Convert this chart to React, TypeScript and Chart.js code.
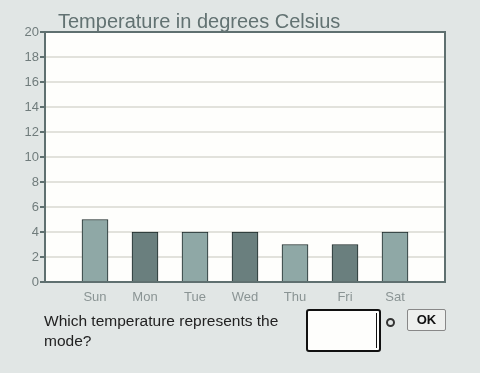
import React, { useEffect, useRef } from "react";
import { Chart, registerables } from "chart.js";

Chart.register(...registerables);

const categories = ["", "Sun", "Mon", "Tue", "Wed", "Thu", "Fri", "Sat", ""];
const temperatures = [null, 5, 4, 4, 4, 3, 3, 4, null];
const barColors = ["#8fa8a6", "#8fa8a6", "#6a7f7e", "#8fa8a6", "#6a7f7e", "#8fa8a6", "#6a7f7e", "#8fa8a6", "#8fa8a6"];
const yMin = 0;
const yMax = 20;
const yStep = 2;

const plotBox = {
  id: "plotBox",
  beforeDraw(chart: any) {
    const { ctx, chartArea: a } = chart;
    ctx.save();
    ctx.fillStyle = "#fefefc";
    ctx.fillRect(a.left, a.top, a.right - a.left, a.bottom - a.top);
    ctx.restore();
  },
  afterDraw(chart: any) {
    const { ctx, chartArea: a } = chart;
    ctx.save();
    ctx.strokeStyle = "#5f7070";
    ctx.lineWidth = 2;
    ctx.strokeRect(a.left, a.top, a.right - a.left, a.bottom - a.top);
    ctx.restore();
  },
};

export default function App() {
  const ref = useRef<HTMLCanvasElement>(null);
  useEffect(() => {
    if (!ref.current) return;
    const chart = new Chart(ref.current, {
      type: "bar",
      data: {
        labels: categories,
        datasets: [
          {
            data: temperatures as any,
            backgroundColor: barColors,
            borderColor: "#1e2a2a",
            borderWidth: 1,
            barThickness: 26,
          },
        ],
      },
      options: {
        responsive: false,
        animation: false,
        layout: { padding: { top: 32, right: 35, left: 0, bottom: 0 } },
        plugins: { legend: { display: false }, tooltip: { enabled: false } },
        scales: {
          x: {
            offset: false,
            grid: { display: false },
            border: { color: "#5f7070", width: 2 },
            ticks: {
              color: "#8a9494",
              font: { family: "Liberation Sans, Arial, sans-serif", size: 13 },
              padding: 0,
              maxRotation: 0,
              autoSkip: false,
            },
            afterFit(scale: any) {
              scale.height = 91;
            },
          },
          y: {
            min: yMin,
            max: yMax,
            ticks: {
              stepSize: yStep,
              color: "#707c7c",
              font: { family: "Liberation Sans, Arial, sans-serif", size: 13 },
              padding: 1,
            },
            grid: {
              color: "#e2e2dc",
              lineWidth: 2,
              tickColor: "#5f7070",
              tickLength: 5,
            },
            border: { color: "#5f7070", width: 2 },
            afterFit(scale: any) {
              scale.width = 45;
            },
          },
        },
      },
      plugins: [plotBox],
    });
    return () => chart.destroy();
  }, []);

  return (
    <div
      style={{
        position: "fixed",
        left: 0,
        top: 0,
        width: 480,
        height: 373,
        background: "#e1e6e5",
        fontFamily: "Liberation Sans, Arial, sans-serif",
        overflow: "hidden",
      }}
    >
      <canvas ref={ref} width={480} height={373} style={{ position: "absolute", left: 0, top: 0 }} />
      <div
        style={{
          position: "absolute",
          left: 58,
          top: 10,
          fontSize: 20,
          color: "#627272",
          lineHeight: "22px",
          whiteSpace: "nowrap",
        }}
      >
        Temperature in degrees Celsius
      </div>
      <div
        style={{
          position: "absolute",
          left: 44,
          top: 311,
          width: 250,
          fontSize: 15.5,
          lineHeight: "20px",
          color: "#222",
        }}
      >
        Which temperature represents the mode?
      </div>
      <div
        style={{
          position: "absolute",
          left: 306,
          top: 309,
          width: 71,
          height: 39,
          border: "2px solid #111",
          borderRadius: 3,
          background: "#fefefc",
        }}
      >
        <div style={{ position: "absolute", left: 68, top: 2, width: 1, height: 35, background: "#111" }} />
      </div>
      <div
        style={{
          position: "absolute",
          left: 386,
          top: 318,
          width: 5,
          height: 5,
          border: "2px solid #333",
          borderRadius: "50%",
        }}
      />
      <div
        style={{
          position: "absolute",
          left: 407,
          top: 309,
          width: 37,
          height: 20,
          border: "1px solid #888",
          borderRadius: 2,
          background: "#eef0ee",
          fontSize: 13,
          fontWeight: "bold",
          color: "#111",
          textAlign: "center",
          lineHeight: "20px",
        }}
      >
        OK
      </div>
    </div>
  );
}
